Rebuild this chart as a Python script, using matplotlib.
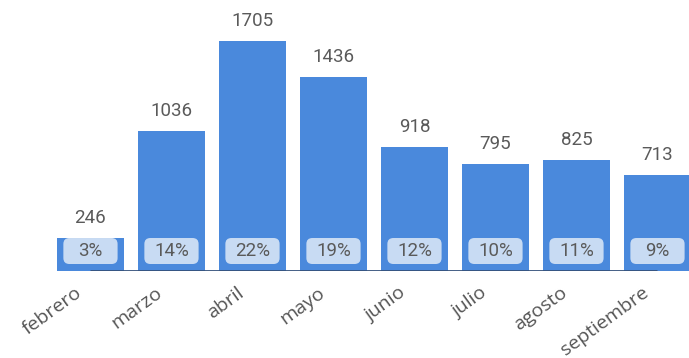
import numpy as np
import matplotlib.pyplot as plt
from matplotlib.patches import FancyBboxPatch
import matplotlib.transforms as mtransforms

months = ["febrero", "marzo", "abril", "mayo", "junio", "julio", "agosto", "septiembre"]
counts = [246, 1036, 1705, 1436, 918, 795, 825, 713]
shares = ["3%", "14%", "22%", "19%", "12%", "10%", "11%", "9%"]

bar_color = "#4a89dc"
box_color = "#c8dbf3"
text_color = "#5a5a5a"

fig = plt.figure(figsize=(6.89, 3.58), dpi=100)
ax = fig.add_axes([0, 0.243, 1, 0.757])

x = np.arange(len(months))
width = 0.83
ax.bar(x, counts, width=width, color=bar_color, zorder=2)
ax.set_xlim(-1.117, 7.389)
ax.set_ylim(0, 2009)

# value labels above the bars
for xi, v in zip(x, counts):
    ax.annotate(f"{v}", (xi, v), xytext=(0, 8), textcoords="offset points",
                ha="center", va="bottom", fontsize=13.5, family="Roboto",
                color=text_color)

# rounded share boxes at the bottom of each bar
px_x = 81.0          # pixels per x unit
px_y = 230 / 1705    # pixels per y unit
bw = width - 13 / px_x
for xi, s in zip(x, shares):
    y0, y1 = 7 / px_y, 33 / px_y
    box = FancyBboxPatch((xi - bw / 2, y0), bw, y1 - y0,
                         boxstyle=f"round,pad=0,rounding_size={6 / px_x}",
                         mutation_aspect=(1 / px_y) / (1 / px_x),
                         facecolor=box_color, edgecolor="none", zorder=3)
    ax.add_patch(box)
    ax.text(xi, (y0 + y1) / 2, s, ha="center", va="center", fontsize=13.5,
            family="Roboto", color=text_color, zorder=4)

ax.hlines(0, x[0], x[-1], color="#34507a", lw=2, zorder=5)

ax.set_xticks(x)
ax.set_xticklabels(months, rotation=36, ha="right", va="top",
                   rotation_mode="anchor", fontsize=14, family="Open Sans",
                   color="#555555")
ax.tick_params(axis="x", length=0, pad=9)
shift = mtransforms.ScaledTranslation(-16 / 100, 0, fig.dpi_scale_trans)
for lbl in ax.get_xticklabels():
    lbl.set_transform(lbl.get_transform() + shift)
ax.set_yticks([])
for sp in ax.spines.values():
    sp.set_visible(False)

fig.savefig("out.png", dpi=100)
